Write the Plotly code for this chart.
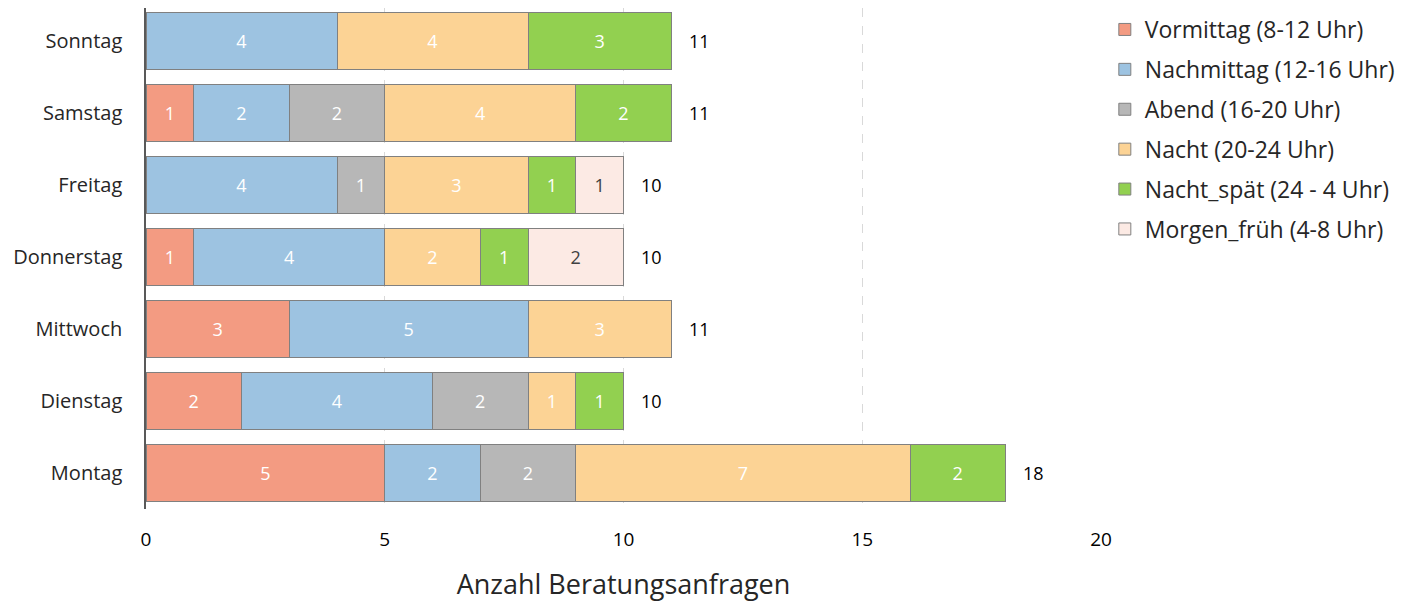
import plotly.graph_objects as go

days = ["Montag", "Dienstag", "Mittwoch", "Donnerstag", "Freitag", "Samstag", "Sonntag"]
series_names = ["Vormittag (8-12 Uhr)", "Nachmittag (12-16 Uhr)", "Abend (16-20 Uhr)",
                "Nacht (20-24 Uhr)", "Nacht_spät (24 - 4 Uhr)", "Morgen_früh (4-8 Uhr)"]
vormittag = [5, 2, 3, 1, 0, 1, 0]
nachmittag = [2, 4, 5, 4, 4, 2, 4]
abend = [2, 2, 0, 0, 1, 2, 0]
nacht = [7, 1, 3, 2, 3, 4, 4]
nacht_spaet = [2, 1, 0, 1, 1, 2, 3]
morgen_frueh = [0, 0, 0, 2, 1, 0, 0]
totals = [18, 10, 11, 10, 10, 11, 11]
x_ticks = [0, 5, 10, 15, 20]

colors = ["#F39B82", "#9DC3E1", "#B7B7B7", "#FCD395", "#92D050", "#FCEAE4"]
text_colors = ["white", "white", "white", "white", "white", "#404040"]
all_series = [vormittag, nachmittag, abend, nacht, nacht_spaet, morgen_frueh]

FONT = "Open Sans"
fig = go.Figure()
for i, (name, vals, col, tcol) in enumerate(zip(series_names, all_series, colors, text_colors)):
    v = [x if x else None for x in vals]
    fig.add_trace(go.Bar(
        y=days, x=v, name=name, orientation="h", legendgroup=f"g{i}",
        marker=dict(color=col, line=dict(color="#808080", width=1)),
        text=[str(x) if x else "" for x in vals],
        textposition="inside", insidetextanchor="middle",
        textfont=dict(color=tcol, size=18, family=FONT),
        width=0.8,
    ))

for d, t in zip(days, totals):
    fig.add_annotation(x=t, y=d, text=str(t), showarrow=False, xanchor="center",
                       xshift=28, font=dict(size=18, color="#000000", family=FONT))

fig.update_layout(
    barmode="stack",
    width=1413, height=602,
    margin=dict(l=138, r=320, t=0, b=101, autoexpand=False),
    plot_bgcolor="white", paper_bgcolor="white",
    font=dict(family=FONT, color="#262626"),
    legend=dict(x=1.004, y=1.0, xanchor="left", yanchor="top",
                font=dict(size=23, color="#262626", family=FONT),
                traceorder="grouped", itemwidth=30, tracegroupgap=7),
    xaxis=dict(range=[0, 20], tickvals=x_ticks, showgrid=True, automargin=False,
               gridcolor="#D9D9D9", griddash="dash", gridwidth=1,
               zeroline=False, showline=False,
               ticks="outside", ticklen=13, tickcolor="rgba(0,0,0,0)",
               tickfont=dict(size=19, color="#000000", family=FONT),
               title=dict(text="Anzahl Beratungsanfragen", standoff=24,
                          font=dict(size=27, color="#262626", family=FONT))),
    yaxis=dict(categoryorder="array", categoryarray=days, range=[-0.5, 6.458],
               automargin=False,
               showline=True, linecolor="#595959", linewidth=1.5,
               ticks="outside", ticklen=18, tickcolor="rgba(0,0,0,0)",
               tickfont=dict(size=20, color="#262626", family=FONT)),
)

fig.write_html("out.html")
